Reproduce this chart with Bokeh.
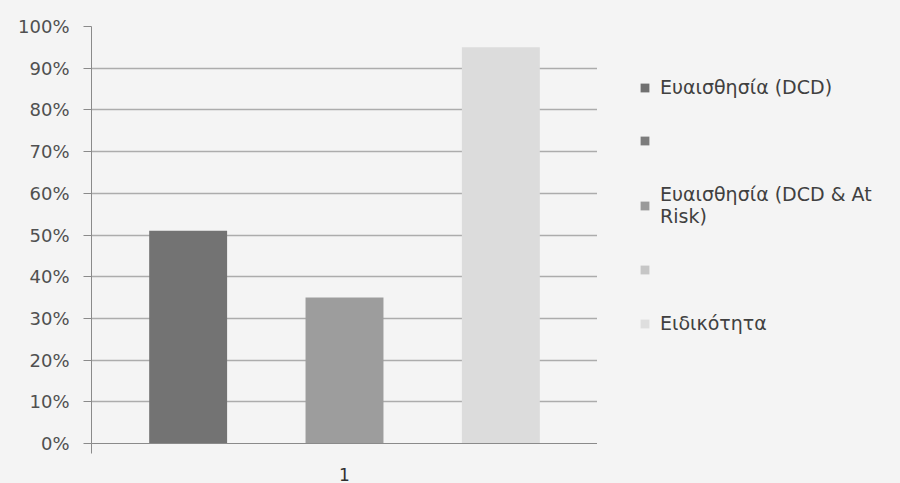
from bokeh.plotting import figure
from bokeh.layouts import row
from bokeh.models import (Range1d, FixedTicker, NumeralTickFormatter, Legend,
                          LegendItem, ColumnDataSource)
from bokeh.embed import file_html
from bokeh.resources import INLINE

# Data
category = "1"
series = ["Ευαισθησία (DCD)", "Ευαισθησία (DCD & At Risk)", "Ειδικότητα"]
values = [0.51, 0.35, 0.95]
bar_colors = ["#737373", "#9d9d9d", "#dcdcdc"]

# Legend entries (two unlabeled swatches between the series)
legend_labels = ["Ευαισθησία (DCD)", "", "Ευαισθησία (DCD & At\nRisk)", "", "Ειδικότητα"]
legend_colors = ["#707070", "#7c7c7c", "#9a9a9a", "#c6c6c6", "#dedede"]

y_ticks = [i / 10 for i in range(11)]

BG = "#f4f4f4"
FONT = "DejaVu Sans"
NAN = float("nan")

# ---- bar chart ----
p = figure(width=597, height=483, output_backend="svg", toolbar_location=None,
           x_range=Range1d(0, 1), y_range=Range1d(0, 1),
           min_border_left=91, min_border_right=0, min_border_top=26,
           min_border_bottom=38)
p.background_fill_color = BG
p.border_fill_color = BG
p.outline_line_color = None

# Bars grouped around the single category, evenly spaced
group_step = 0.309
bar_width = 0.154
for i, (name, v, c) in enumerate(zip(series, values, bar_colors)):
    src = ColumnDataSource(dict(x=[0.5 + (i - 1) * group_step], top=[v]))
    p.vbar(x="x", top="top", width=bar_width, bottom=0, source=src,
           fill_color=c, line_color=None)

# Y axis
p.yaxis.ticker = FixedTicker(ticks=y_ticks)
p.yaxis.formatter = NumeralTickFormatter(format="0%")
p.yaxis.major_label_text_font = FONT
p.yaxis.major_label_text_font_size = "18px"
p.yaxis.major_label_text_color = "#505050"
p.yaxis.axis_line_color = "#8a8a8a"
p.yaxis.major_tick_line_color = "#8a8a8a"
p.yaxis.major_tick_out = 8
p.yaxis.major_tick_in = 0
p.yaxis.minor_tick_line_color = None
p.yaxis.major_label_standoff = 14

# X axis: single category label, ticks at the category edges
p.xaxis.ticker = FixedTicker(ticks=[0.5], minor_ticks=[0, 1])
p.xaxis.major_label_overrides = {0.5: category}
p.xaxis.major_tick_line_color = None
p.xaxis.minor_tick_line_color = "#8a8a8a"
p.xaxis.minor_tick_out = 10
p.xaxis.minor_tick_in = 0
p.xaxis.axis_line_color = "#8a8a8a"
p.xaxis.major_label_text_font = FONT
p.xaxis.major_label_text_font_size = "17px"
p.xaxis.major_label_text_color = "#303030"
p.xaxis.major_label_standoff = 14

# Grid
p.xgrid.grid_line_color = None
p.ygrid.ticker = FixedTicker(ticks=y_ticks)
p.ygrid.grid_line_color = "#acacac"
p.ygrid.grid_line_width = 1.5

# ---- legend panel ----
lg = figure(width=303, height=483, output_backend="svg", toolbar_location=None,
            x_range=Range1d(0, 1), y_range=Range1d(0, 1),
            x_axis_type=None, y_axis_type=None,
            min_border_left=0, min_border_right=0, min_border_top=0,
            min_border_bottom=0)
lg.background_fill_color = BG
lg.border_fill_color = BG
lg.outline_line_color = None
lg.xgrid.grid_line_color = None
lg.ygrid.grid_line_color = None

items = []
for lab, col in zip(legend_labels, legend_colors):
    sw = lg.rect(x=[NAN], y=[NAN], width=0.1, height=0.1,
                 fill_color=col, line_color=None)
    items.append(LegendItem(label=lab, renderers=[sw]))

legend = Legend(items=items, location=(42, 109), margin=0, padding=10,
                glyph_width=11, glyph_height=11, label_standoff=10, spacing=37,
                label_text_font=FONT, label_text_font_size="19px",
                label_text_color="#404040", background_fill_alpha=0,
                border_line_color=None)
lg.add_layout(legend, "center")

layout = row(p, lg, spacing=0)
layout.styles = {"background-color": BG}
open("out.html", "w").write(file_html(layout, INLINE))
